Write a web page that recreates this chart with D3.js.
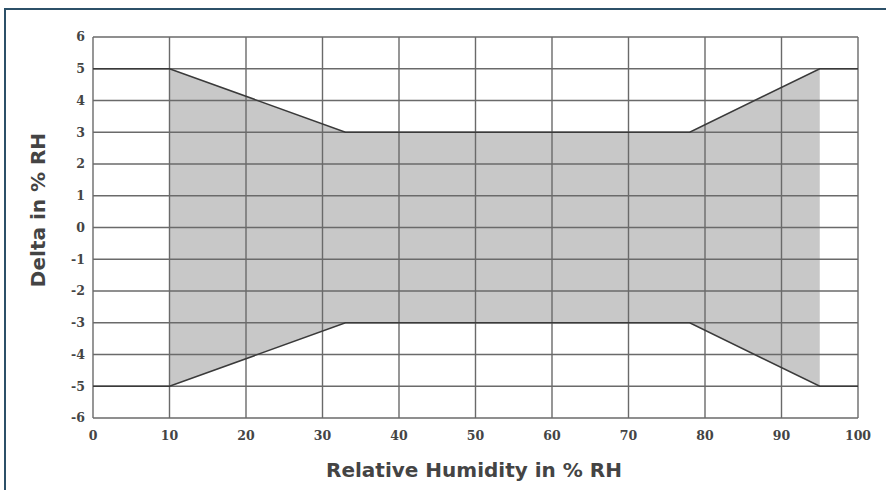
<!DOCTYPE html>
<html><head><meta charset="utf-8">
<script src="https://cdn.jsdelivr.net/npm/d3@7"></script>
<style>body{margin:0;background:#fff;}svg{display:block;}</style>
</head><body>
<svg id="c" width="886" height="490"></svg>
<script>
const xTicks = [0,10,20,30,40,50,60,70,80,90,100];
const yTicks = [6,5,4,3,2,1,0,-1,-2,-3,-4,-5,-6];
const limitX = [0,10,33,78,95,100];
const upperLimit = [5,5,3,3,5,5];
const lowerLimit = [-5,-5,-3,-3,-5,-5];
const bandX = [10,33,78,95];
const bandUpper = [5,3,3,5];
const bandLower = [-5,-3,-3,-5];
const xTitle = "Relative Humidity in % RH";
const yTitle = "Delta in % RH";

const svg = d3.select("#c");
// frame
svg.append("path").attr("d","M5,492 L5,9 L890,9").attr("fill","none").attr("stroke","#2c5068").attr("stroke-width",2);

const x = d3.scaleLinear().domain([0,100]).range([93,858]);
const y = d3.scaleLinear().domain([-6,6]).range([418,37]);

// band
const area = d3.area().x((d,i)=>x(bandX[i])).y0((d,i)=>y(bandLower[i])).y1((d,i)=>y(bandUpper[i]));
svg.append("path").datum(bandX).attr("d",area).attr("fill","#c8c8c8");

// grid
svg.append("g").selectAll("line").data(xTicks).join("line")
  .attr("x1",d=>x(d)).attr("x2",d=>x(d)).attr("y1",y(6)).attr("y2",y(-6))
  .attr("stroke","#6a6a6a").attr("stroke-width",1.4);
svg.append("g").selectAll("line").data(yTicks).join("line")
  .attr("x1",x(0)).attr("x2",x(100)).attr("y1",d=>y(d)).attr("y2",d=>y(d))
  .attr("stroke","#6a6a6a").attr("stroke-width",1.4);

// limit lines
const line = d3.line().x((d,i)=>x(limitX[i])).y(d=>y(d));
[upperLimit, lowerLimit].forEach(arr=>{
  svg.append("path").datum(arr).attr("d",line).attr("fill","none").attr("stroke","#3a3a3a").attr("stroke-width",1.6);
});

// tick labels
svg.append("g").selectAll("text").data(yTicks).join("text")
  .attr("x",x(0)-8).attr("y",d=>y(d)).attr("dy","0.35em").attr("text-anchor","end")
  .attr("font-family","DejaVu Serif").attr("font-weight","bold").attr("font-size",12.5).attr("fill","#444")
  .text(d=>d);
svg.append("g").selectAll("text").data(xTicks).join("text")
  .attr("x",d=>x(d)).attr("y",y(-6)+18).attr("dy","0.35em").attr("text-anchor","middle")
  .attr("font-family","DejaVu Serif").attr("font-weight","bold").attr("font-size",12.5).attr("fill","#444")
  .text(d=>d);

svg.append("text").attr("x",474).attr("y",477).attr("text-anchor","middle")
  .attr("font-family","DejaVu Sans").attr("font-weight","bold").attr("font-size",20).attr("fill","#444").text(xTitle);
svg.append("text").attr("transform","translate(45,210) rotate(-90)").attr("text-anchor","middle")
  .attr("font-family","DejaVu Sans").attr("font-weight","bold").attr("font-size",20).attr("fill","#444").text(yTitle);
</script>
</body></html>
